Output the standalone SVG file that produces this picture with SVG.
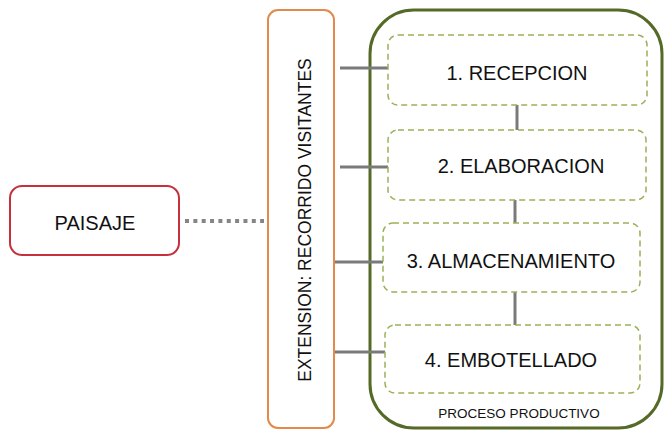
<svg xmlns="http://www.w3.org/2000/svg" width="666" height="430" viewBox="0 0 666 430">
<style>
text{font-family:"Liberation Sans",Arial,sans-serif;fill:#111}
.step{fill:#fff;stroke:#9bb158;stroke-width:1.5;stroke-dasharray:6 4}
.conn{stroke:#7a7a7a;stroke-width:3;fill:none}
.lbl{font-size:20px;text-anchor:middle}
</style>
<rect width="666" height="430" fill="#fff"/>
<g id="proceso">
<rect x="370" y="10" width="292" height="418" rx="44" fill="#fff" stroke="#566a28" stroke-width="3"/>
<text x="519" y="418" font-size="13.5" text-anchor="middle">PROCESO PRODUCTIVO</text>
</g>
<g id="connectors">
<line x1="185" y1="221" x2="264" y2="221" stroke="#858585" stroke-width="4" stroke-dasharray="4 4.35"/>
<line class="conn" x1="340" y1="68" x2="388" y2="68"/>
<line class="conn" x1="340" y1="167" x2="388" y2="167"/>
<line class="conn" x1="334" y1="262" x2="383" y2="262"/>
<line class="conn" x1="334" y1="352" x2="385" y2="352"/>
<line class="conn" x1="517" y1="105" x2="517" y2="130"/>
<line class="conn" x1="515" y1="200" x2="515" y2="223"/>
<line class="conn" x1="515" y1="292" x2="515" y2="325"/>
</g>
<g id="paisaje">
<rect x="10" y="186" width="169" height="69" rx="12" fill="#fff" stroke="#c4303c" stroke-width="2"/>
<text class="lbl" x="95" y="230">PAISAJE</text>
</g>
<g id="extension">
<rect x="268" y="10" width="66" height="418" rx="10" fill="#fff" stroke="#e28a4c" stroke-width="2"/>
<text transform="translate(311,220) rotate(-90)" font-size="17.5" text-anchor="middle">EXTENSION: RECORRIDO VISITANTES</text>
</g>
<g id="recepcion">
<rect class="step" x="388" y="35" width="259" height="70" rx="10"/>
<text class="lbl" x="517" y="80">1. RECEPCION</text>
</g>
<g id="elaboracion">
<rect class="step" x="388" y="130" width="258" height="70" rx="10"/>
<text class="lbl" x="521" y="173">2. ELABORACION</text>
</g>
<g id="almacenamiento">
<rect class="step" x="383" y="223" width="257" height="69" rx="10"/>
<text class="lbl" x="511" y="268">3. ALMACENAMIENTO</text>
</g>
<g id="embotellado">
<rect class="step" x="385" y="325" width="255" height="68" rx="10"/>
<text class="lbl" x="511" y="367">4. EMBOTELLADO</text>
</g>
</svg>
